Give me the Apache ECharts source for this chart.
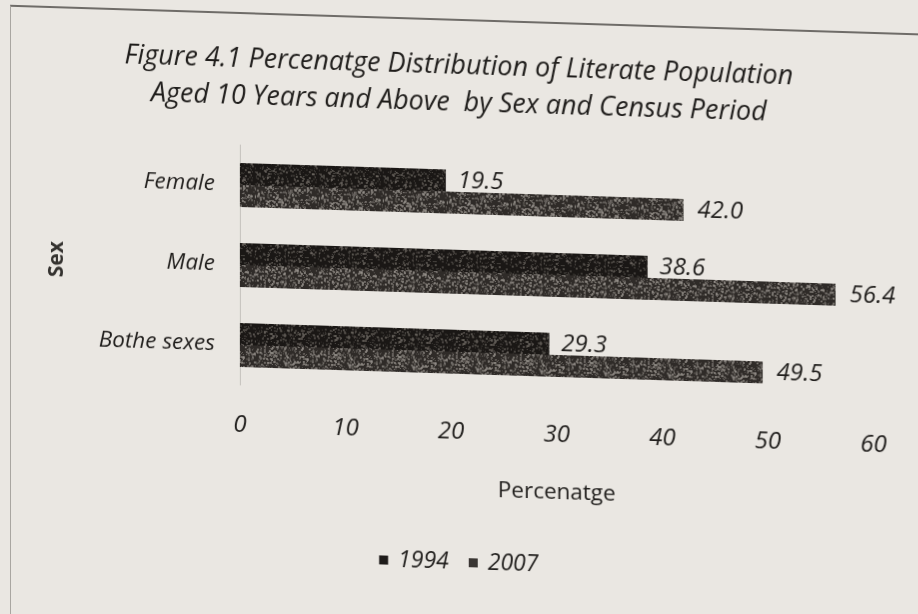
<!DOCTYPE html>
<html>
<head>
<meta charset="utf-8">
<script src="https://cdn.jsdelivr.net/npm/echarts@6/dist/echarts.min.js"></script>
<style>
  html, body { margin: 0; padding: 0; background: #eae7e2; overflow: hidden; }
  #wrap { position: absolute; left: 0; top: 0; width: 918px; height: 614px;
          transform: skewY(1.8deg); transform-origin: 240px 0; }
  #chart { width: 918px; height: 614px; }
  #frame { position: absolute; left: 10px; top: 12px; width: 960px; height: 620px;
           border-left: 1px solid #a9a6a1; border-top: 2px solid #6f6c68; }
</style>
</head>
<body>
<div id="wrap"><div id="frame"></div><div id="chart"></div></div>
<script>
const categories = ['Female', 'Male', 'Bothe sexes'];
const seriesNames = ['1994', '2007'];
const values1994 = [19.5, 38.6, 29.3];
const values2007 = [42.0, 56.4, 49.5];
const xTickMin = 0, xTickMax = 60, xTickStep = 10;

function speckle(base, light, seed, count) {
  const c = document.createElement('canvas');
  c.width = 64; c.height = 64;
  const g = c.getContext('2d');
  g.fillStyle = base; g.fillRect(0, 0, 64, 64);
  let s = seed;
  const next = () => { s = (s * 1103515245 + 12345) & 0x7fffffff; return s / 0x7fffffff; };
  for (let i = 0; i < count; i++) {
    g.fillStyle = light;
    g.globalAlpha = 0.25 + next() * 0.5;
    const sz = 1 + Math.floor(next() * 2);
    g.fillRect(Math.floor(next() * 64), Math.floor(next() * 64), sz, sz);
  }
  return c;
}

const chart = echarts.init(document.getElementById('chart'), null, { renderer: 'canvas' });
const font = '"Open Sans", Lato, sans-serif';
const ink = '#1f1d1b';

chart.setOption({
  backgroundColor: 'transparent',
  animation: false,
  title: {
    text: 'Figure 4.1 Percenatge Distribution of Literate Population\nAged 10 Years and Above  by Sex and Census Period',
    left: 'center', top: 36,
    textStyle: { fontFamily: font, fontStyle: 'italic', fontWeight: 'normal', fontSize: 27, lineHeight: 37, color: ink }
  },
  legend: {
    top: 539, left: 'center',
    icon: 'rect', itemWidth: 9, itemHeight: 9, itemGap: 20,
    textStyle: { fontFamily: font, fontStyle: 'italic', fontSize: 23, color: ink, padding: [0, 0, 0, 5] },
    data: [
      { name: seriesNames[0], itemStyle: { color: '#1f1c1a' } },
      { name: seriesNames[1], itemStyle: { color: '#3a3633' } }
    ]
  },
  grid: { left: 240, right: 44, top: 145, bottom: 229 },
  xAxis: {
    type: 'value', min: xTickMin, max: xTickMax, interval: xTickStep,
    name: 'Percenatge', nameLocation: 'middle', nameGap: 86,
    nameTextStyle: { fontFamily: font, fontSize: 22.5, color: ink },
    axisLine: { show: false }, axisTick: { show: false }, splitLine: { show: false },
    axisLabel: { margin: 28, fontFamily: font, fontStyle: 'italic', fontSize: 24, color: ink }
  },
  yAxis: {
    type: 'category', data: categories, inverse: true,
    name: 'Sex', nameLocation: 'middle', nameGap: 172,
    nameTextStyle: { fontFamily: font, fontSize: 21, fontWeight: 'bold', color: '#34322f' },
    axisLine: { show: true, lineStyle: { color: '#c4c1bc', width: 1 } },
    axisTick: { show: false },
    axisLabel: { margin: 25, fontFamily: font, fontStyle: 'italic', fontSize: 22.5, color: ink }
  },
  series: [
    {
      name: seriesNames[0], type: 'bar', data: values1994,
      barCategoryGap: '45%', barGap: '0%',
      itemStyle: { color: { image: speckle('#1a1715', '#6b6660', 7, 650), repeat: 'repeat' } },
      label: { show: true, position: 'right', distance: 12, formatter: p => p.value.toFixed(1),
               fontFamily: font, fontStyle: 'italic', fontSize: 24, color: ink }
    },
    {
      name: seriesNames[1], type: 'bar', data: values2007,
      barCategoryGap: '45%', barGap: '0%',
      itemStyle: { color: { image: speckle('#2f2b28', '#9a958f', 13, 900), repeat: 'repeat' } },
      label: { show: true, position: 'right', distance: 14, formatter: p => p.value.toFixed(1),
               fontFamily: font, fontStyle: 'italic', fontSize: 24, color: ink }
    }
  ]
});
</script>
</body>
</html>
